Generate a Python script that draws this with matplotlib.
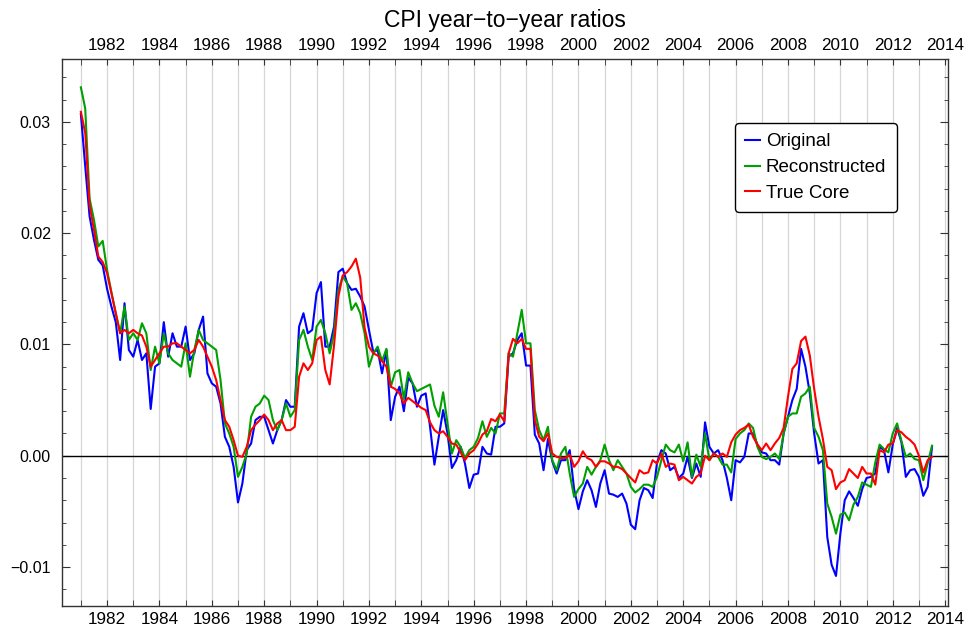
import numpy as np
import matplotlib
matplotlib.use("Agg")
import matplotlib.pyplot as plt
from matplotlib.ticker import MultipleLocator, FixedLocator, FuncFormatter

plt.rcParams['font.family'] = ['Liberation Sans', 'DejaVu Sans']

# Year-to-year CPI ratios (in thousandths), sampled every two months from January 1981
start_year = 1981.0
step = 1.0 / 6.0

original = [
    30.7, 26.0, 21.5, 19.4, 17.6, 17.1,
    15.0, 13.4, 12.0, 8.6, 13.7, 9.5,
    8.9, 10.4, 8.6, 9.2, 4.2, 8.0,
    8.3, 12.0, 8.9, 11.0, 9.8, 9.8,
    11.6, 8.6, 9.2, 11.3, 12.5, 7.4,
    6.5, 6.2, 4.7, 1.7, 0.8, -1.0,
    -4.2, -2.5, 0.5, 1.1, 3.2, 3.5,
    3.5, 2.3, 1.1, 2.3, 3.2, 5.0,
    4.4, 4.4, 11.6, 12.8, 11.0, 11.3,
    14.6, 15.6, 9.8, 9.8, 11.6, 16.5,
    16.8, 15.5, 14.9, 15.0, 14.3, 13.4,
    11.3, 9.3, 9.5, 7.4, 9.5, 3.2,
    5.3, 6.2, 4.0, 7.0, 6.5, 4.4,
    5.4, 5.6, 2.6, -0.8, 1.7, 4.1,
    2.0, -1.1, -0.4, 0.8, -0.7, -2.9,
    -1.7, -1.6, 0.8, 0.2, 0.1, 2.6,
    2.6, 2.9, 8.9, 9.2, 10.4, 11.0,
    8.1, 8.1, 1.9, 1.1, -1.3, 1.5,
    -0.5, -1.6, -0.4, -0.4, 0.5, -3.0,
    -4.8, -3.2, -2.2, -3.1, -4.6, -2.5,
    -1.3, -3.4, -3.5, -3.7, -3.4, -4.3,
    -6.2, -6.6, -4.0, -2.9, -3.1, -3.8,
    -0.6, 0.5, 0.2, -1.3, -1.0, -2.0,
    -1.6, -0.1, -2.0, -0.7, -1.9, 3.0,
    0.8, 0.2, 0.5, -0.4, -2.0, -4.0,
    -0.4, -0.6, -0.1, 2.0, 2.0, 1.0,
    0.3, 0.2, -0.4, -0.4, -0.8, 2.0,
    3.5, 5.0, 6.0, 9.6, 8.0, 5.6,
    2.0, -0.7, -0.4, -7.3, -9.8, -10.8,
    -7.0, -4.0, -3.2, -3.8, -4.5, -3.0,
    -2.0, -1.9, -1.6, 0.8, 0.5, -1.5,
    1.0, 2.5, 1.2, -1.9, -1.3, -1.2,
    -1.9, -3.6, -2.8, 0.8,
]

reconstructed = [
    33.1, 31.2, 23.1, 21.2, 18.8, 19.3,
    16.7, 14.7, 12.8, 11.0, 13.4, 10.4,
    11.0, 10.4, 11.9, 11.0, 7.7, 9.8,
    8.3, 11.0, 9.2, 8.6, 8.3, 8.0,
    10.1, 7.1, 9.5, 11.3, 10.4, 10.1,
    9.8, 9.5, 6.8, 2.9, 2.0, 0.8,
    -1.9, -1.0, 0.2, 3.5, 4.4, 4.7,
    5.4, 5.0, 3.2, 2.3, 3.2, 4.7,
    3.5, 4.1, 10.4, 11.3, 9.8, 8.6,
    11.6, 12.2, 11.0, 9.2, 11.0, 14.9,
    16.1, 15.5, 13.1, 13.7, 12.8, 11.0,
    8.0, 9.2, 9.8, 8.5, 9.6, 6.2,
    7.5, 7.7, 5.1, 7.5, 6.5, 5.8,
    6.0, 6.2, 6.4, 4.5, 3.5, 5.7,
    2.9, 0.2, 1.4, 0.8, -0.2, 0.5,
    0.8, 1.6, 3.1, 1.7, 2.5, 2.0,
    3.8, 3.8, 9.2, 8.9, 11.0, 13.1,
    10.1, 10.1, 4.1, 2.3, 1.4, 2.6,
    -0.4, -1.3, 0.2, 0.8, -1.6, -3.7,
    -3.0, -2.5, -1.0, -1.7, -1.0, -0.4,
    1.0, -0.4, -1.3, -0.4, -1.0, -1.6,
    -2.8, -3.3, -3.0, -2.6, -2.6, -2.8,
    -1.9, -0.4, 1.0, 0.5, 0.3, 1.0,
    -0.5, 1.2, -1.9, 0.1, -1.0, 2.0,
    -0.4, 0.2, -0.1, -0.8, -0.8, -1.5,
    1.5, 2.0, 2.3, 2.9, 2.5, 0.8,
    -0.1, -0.3, -0.1, 0.2, -0.3, 2.0,
    3.5, 3.8, 3.8, 5.3, 5.6, 6.2,
    2.5, 1.7, 0.5, -4.3, -5.5, -7.0,
    -5.3, -5.1, -5.8, -4.4, -3.7, -2.4,
    -2.6, -2.8, -0.6, 1.0, 0.6, 0.3,
    2.0, 2.9, 1.3, -0.1, 0.2, -0.3,
    -0.4, -2.2, -0.7, 0.9,
]

true_core = [
    30.9, 29.0, 22.5, 20.3, 17.9, 17.4,
    16.4, 14.6, 12.8, 11.0, 11.3, 11.0,
    11.3, 11.0, 10.8, 9.8, 8.0, 8.6,
    9.2, 9.8, 9.8, 10.1, 10.1, 9.8,
    9.5, 9.2, 9.5, 10.4, 9.8, 8.9,
    8.0, 6.8, 5.0, 3.2, 2.6, 1.4,
    0.0, -0.1, 0.8, 2.3, 2.8, 3.2,
    3.7, 3.2, 2.3, 2.9, 3.2, 2.3,
    2.3, 2.6, 7.1, 8.3, 7.7, 8.3,
    10.4, 10.7, 7.7, 6.4, 9.9, 14.3,
    16.2, 16.5, 17.0, 17.7, 16.0, 11.5,
    9.8, 9.2, 9.0, 8.5, 8.0, 6.2,
    6.0, 5.6, 4.7, 5.2, 4.9, 4.6,
    4.3, 4.1, 3.0, 2.3, 2.0, 2.2,
    1.7, 1.1, 1.0, 0.3, -0.4, 0.2,
    0.5, 1.1, 1.9, 2.2, 3.3, 3.1,
    3.7, 3.1, 9.2, 10.5, 10.1, 10.5,
    9.6, 9.6, 3.2, 1.7, 1.3, 2.0,
    0.2, -0.1, -0.2, -0.2, 0.1, -1.0,
    -0.5, 0.4, -0.2, -0.4, -1.0, -0.5,
    -0.5, -0.7, -1.0, -1.0, -1.2, -1.6,
    -2.0, -2.4, -1.3, -1.6, -1.5, -0.4,
    -0.7, 0.2, -1.0, -0.7, -0.8, -2.2,
    -1.9, -2.2, -2.5, -1.9, -1.6, 0.0,
    -0.4, 0.2, -0.1, 0.2, -0.1, 1.2,
    1.9, 2.3, 2.5, 2.8, 1.7, 1.0,
    0.5, 1.1, 0.5, 1.1, 1.6, 2.5,
    5.3, 7.8, 8.3, 10.3, 10.7, 9.0,
    6.0, 3.5, 1.5, -1.0, -1.3, -3.0,
    -2.4, -2.2, -1.2, -1.6, -2.0, -1.0,
    -1.6, -1.6, -2.6, 0.5, 0.3, 1.0,
    1.1, 2.3, 2.1, 1.7, 1.4, 1.0,
    0.0, -1.5, -0.4, -0.1,
]

series = [
    ("Original", original, "#0000ff"),
    ("Reconstructed", reconstructed, "#00a000"),
    ("True Core", true_core, "#ff0000"),
]

fig = plt.figure(figsize=(9.67, 6.28), dpi=100)
ax = fig.add_axes([62 / 967, 1 - 606 / 628, 886 / 967, 547 / 628])

for name, vals, color in series:
    v = np.asarray(vals) / 1000.0
    t = start_year + step * np.arange(len(v))
    ax.plot(t, v, color=color, lw=1.5, label=name, zorder=3)

ax.axhline(0.0, color="black", lw=1.0, zorder=2)

ax.set_xlim(1980.28, 2014.11)
ax.set_ylim(-0.0135, 0.03564)

# Years: labels every two years, tick and grid line every year
ax.xaxis.set_major_locator(FixedLocator(list(range(1982, 2015, 2))))
ax.xaxis.set_minor_locator(FixedLocator(list(range(1981, 2015, 2))))
ax.xaxis.set_major_formatter(FuncFormatter(lambda x, p: f"{int(round(x))}"))
ax.grid(True, axis="x", which="both", color="#d6d6d6", lw=0.9, zorder=0)

ax.yaxis.set_major_locator(MultipleLocator(0.01))
ax.yaxis.set_minor_locator(MultipleLocator(0.002))
ax.yaxis.set_major_formatter(FuncFormatter(
    lambda y, p: ("\u2212" if y < -1e-9 else "") + f"{abs(y):.2f}"))

ax.tick_params(axis="both", which="both", direction="in",
               top=True, bottom=True, left=True, right=True,
               colors="#333333", labelcolor="black")
ax.tick_params(axis="x", which="both", length=4, labeltop=True,
               labelsize=12.3, pad=4)
ax.tick_params(axis="y", which="major", length=6, labelsize=11.5, pad=8)
ax.tick_params(axis="y", which="minor", length=3)

for s in ax.spines.values():
    s.set_color("#333333")
    s.set_linewidth(1.0)

ax.set_title("CPI year\u2212to\u2212year ratios", fontsize=16.5, pad=23)

leg = ax.legend(loc="upper left", bbox_to_anchor=(0.7596, 0.883),
                fontsize=13.5, frameon=True, fancybox=True,
                handlelength=0.8, handletextpad=0.3, borderpad=0.55,
                labelspacing=0.46, borderaxespad=0.0)
leg.get_frame().set_edgecolor("black")
leg.get_frame().set_linewidth(1.0)
leg.get_frame().set_alpha(1.0)

fig.savefig("out.png", dpi=100)
